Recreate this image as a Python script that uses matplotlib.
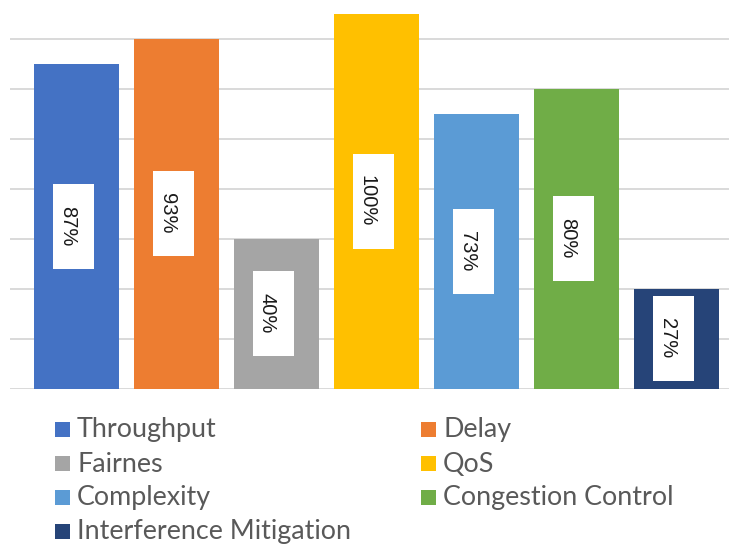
import matplotlib
matplotlib.use("Agg")
import matplotlib.pyplot as plt
from matplotlib.patches import Rectangle

categories = ["Throughput", "Delay", "Fairnes", "QoS", "Complexity",
              "Congestion Control", "Interference Mitigation"]
values = [6.5, 7.0, 3.0, 7.5, 5.5, 6.0, 2.0]
labels = ["87%", "93%", "40%", "100%", "73%", "80%", "27%"]
colors = ["#4472C4", "#ED7D31", "#A5A5A5", "#FFC000", "#5B9BD5", "#70AD47", "#264478"]

W, H = 729, 545
fig = plt.figure(figsize=(W / 100, H / 100), dpi=100)
ax = fig.add_axes([10 / W, (H - 388.5) / H, 719 / W, 388.5 / H])

x = list(range(len(categories)))
ax.set_xlim((10 - 76.5) / 100, (729 - 76.5) / 100)
ax.set_ylim(0, 388.5 / 50)
ax.set_yticks(range(8))
ax.yaxis.grid(True, color="#d9d9d9", lw=1.4, zorder=0)
ax.set_axisbelow(True)
for s in ax.spines.values():
    s.set_visible(False)
ax.tick_params(left=False, bottom=False, labelleft=False, labelbottom=False)

ax.bar(x, values, width=0.85, color=colors, zorder=2)

for xi, v, lab in zip(x, values, labels):
    bh = 1.7 + 0.2 * (len(lab) - 3)
    bw = 0.41
    cx = xi - 0.027
    ax.add_patch(Rectangle((cx - bw / 2, v / 2 - bh / 2), bw, bh,
                           facecolor="white", edgecolor="none", zorder=3))
    ax.text(xi - 0.148, v / 2, lab, rotation=-90, rotation_mode="anchor",
            ha="center", va="baseline",
            fontsize=14.5, family=["Liberation Sans Narrow", "Liberation Sans"],
            color="#1a1a1a", zorder=4)

# legend (two columns, row-major)
for i, (cat, col) in enumerate(zip(categories, colors)):
    r, c = divmod(i, 2)
    px = 55 + c * 366
    py = 429.5 + r * 34
    fig.patches.append(Rectangle((px / W, 1 - (py + 7.5) / H), 15 / W, 15 / H,
                                 transform=fig.transFigure, facecolor=col,
                                 edgecolor="none"))
    fig.text((px + 22) / W, 1 - (py - 2) / H, cat, ha="left", va="center_baseline",
             fontsize=19.4, family="Lato", color="#595959")

fig.savefig("out.png", dpi=100)
